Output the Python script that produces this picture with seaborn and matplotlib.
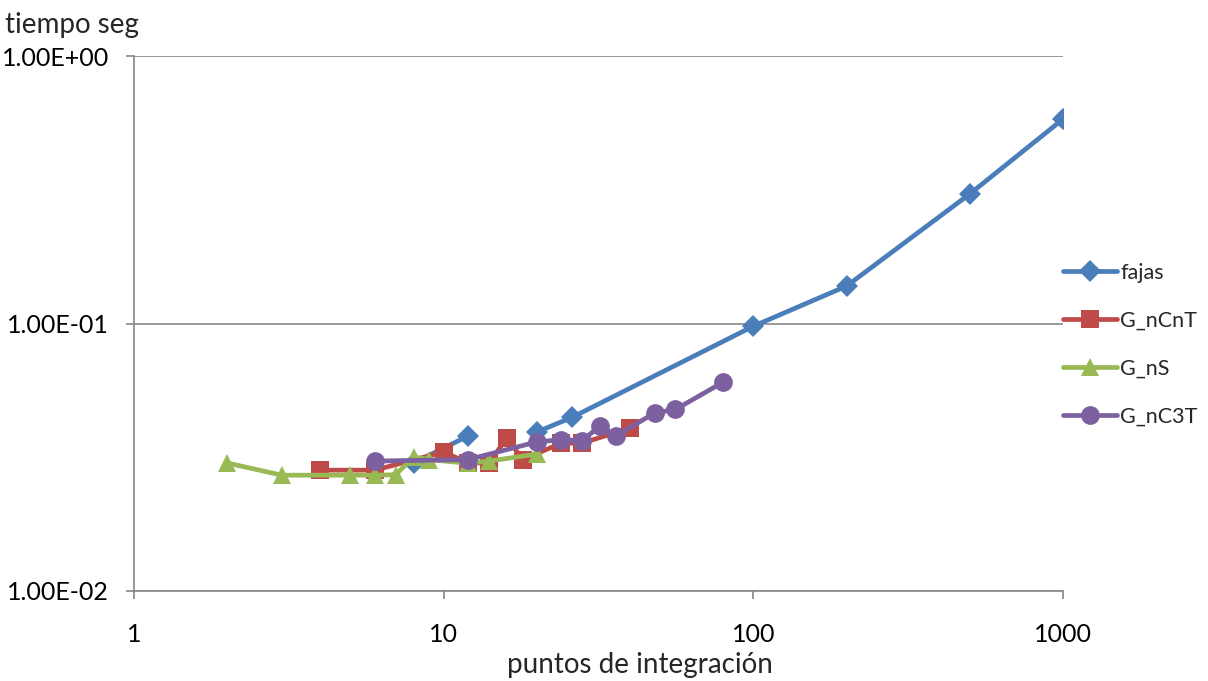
import numpy as np
import pandas as pd
import matplotlib
matplotlib.use("Agg")
import matplotlib.pyplot as plt
import matplotlib.ticker as mticker
import seaborn as sns

# integration points (x) and elapsed time in seconds (y) per method
fajas_x = [8, 12, 16, 20, 26, 100, 200, 500, 1000]
fajas_y = [0.0301, 0.0380, np.nan, 0.0393, 0.0446, 0.0977, 0.138, 0.305, 0.581]

gncnt_x = [4, 6, 10, 12, 14, 16, 18, 24, 28, 40]
gncnt_y = [0.0283, 0.0283, 0.0331, 0.0301, 0.0301, 0.0373, 0.0310, 0.0357, 0.0357, 0.0407]

gns_x = [2, 3, 5, 6, 7, 8, 9, 12, 14, 20]
gns_y = [0.0301, 0.0271, 0.0271, 0.0271, 0.0272, 0.0317, 0.0310, 0.0300, 0.0306, 0.0325]

gnc3t_x = [6, 12, 20, 24, 28, 32, 36, 48, 56, 80]
gnc3t_y = [0.0306, 0.0310, 0.0361, 0.0368, 0.0365, 0.0414, 0.0380, 0.0463, 0.0477, 0.0604]

series_names = ["fajas", "G_nCnT", "G_nS", "G_nC3T"]
colors = ["#4A7EBB", "#BE4B48", "#98B954", "#7D60A0"]
markers = ["D", "s", "^", "o"]
msizes = [11.5, 12.5, 13.5, 13.5]

x_ticks = [1, 10, 100, 1000]
x_ticklabels = ["1", "10", "100", "1000"]
y_ticks = [0.01, 0.1, 1.0]
y_ticklabels = ["1.00E-02", "1.00E-01", "1.00E+00"]

sns.set_theme(style="white")
plt.rcParams["font.family"] = ["Lato", "DejaVu Sans"]

fig = plt.figure(figsize=(12.08, 6.81), dpi=100)
ax = fig.add_axes([134 / 1208, 1 - 591 / 681, (1063 - 134) / 1208, (591 - 56) / 681])

all_data = [(fajas_x, fajas_y), (gncnt_x, gncnt_y), (gns_x, gns_y), (gnc3t_x, gnc3t_y)]
for name, (xs, ys), c, m, ms in zip(series_names, all_data, colors, markers, msizes):
    df = pd.DataFrame({"x": xs, "y": ys})
    # missing values split a series into separate line segments
    df["seg"] = df["y"].isna().cumsum()
    df = df.dropna()
    sns.lineplot(data=df, x="x", y="y", units="seg", estimator=None, ax=ax,
                 color=c, lw=3.4, marker=m, markersize=ms, markeredgewidth=0,
                 legend=False, sort=False, zorder=3)
    ax.plot([], [], color=c, lw=3.4, marker=m, markersize=ms,
            markeredgewidth=0, label=name)

ax.set_xscale("log")
ax.set_yscale("log")
ax.set_xlim(1, 1000)
ax.set_ylim(0.01, 1.0)

ax.xaxis.set_major_locator(mticker.FixedLocator(x_ticks))
ax.xaxis.set_major_formatter(mticker.FixedFormatter(x_ticklabels))
ax.xaxis.set_minor_locator(mticker.NullLocator())
ax.yaxis.set_major_locator(mticker.FixedLocator(y_ticks))
ax.yaxis.set_major_formatter(mticker.FixedFormatter(y_ticklabels))
ax.yaxis.set_minor_locator(mticker.NullLocator())

ax.grid(axis="y", color="#878787", lw=1.2)
ax.grid(axis="x", visible=False)
for s in ["top", "right"]:
    ax.spines[s].set_visible(False)
for s in ["left", "bottom"]:
    ax.spines[s].set_color("#878787")
    ax.spines[s].set_linewidth(1.2)

ax.tick_params(axis="both", which="major", direction="out", length=6, width=1.2,
               color="#878787", labelsize=18, labelcolor="black",
               left=True, bottom=True)
ax.tick_params(axis="y", pad=12)
ax.tick_params(axis="x", pad=17)
ax.set_xlabel("")
ax.set_ylabel("")

fig.text(5 / 1208, 1 - 25 / 681, "tiempo seg", fontsize=20, ha="left", va="center")
fig.text(640 / 1208, 1 - 665 / 681, "puntos de integración", fontsize=20,
         ha="center", va="center")

leg = ax.legend(loc="center left", bbox_to_anchor=(1.0, 0.46), frameon=False,
                fontsize=15.5, handlelength=2.5, handletextpad=0.15,
                labelspacing=1.3, borderaxespad=0, borderpad=0)

fig.savefig("out.png", dpi=100)
